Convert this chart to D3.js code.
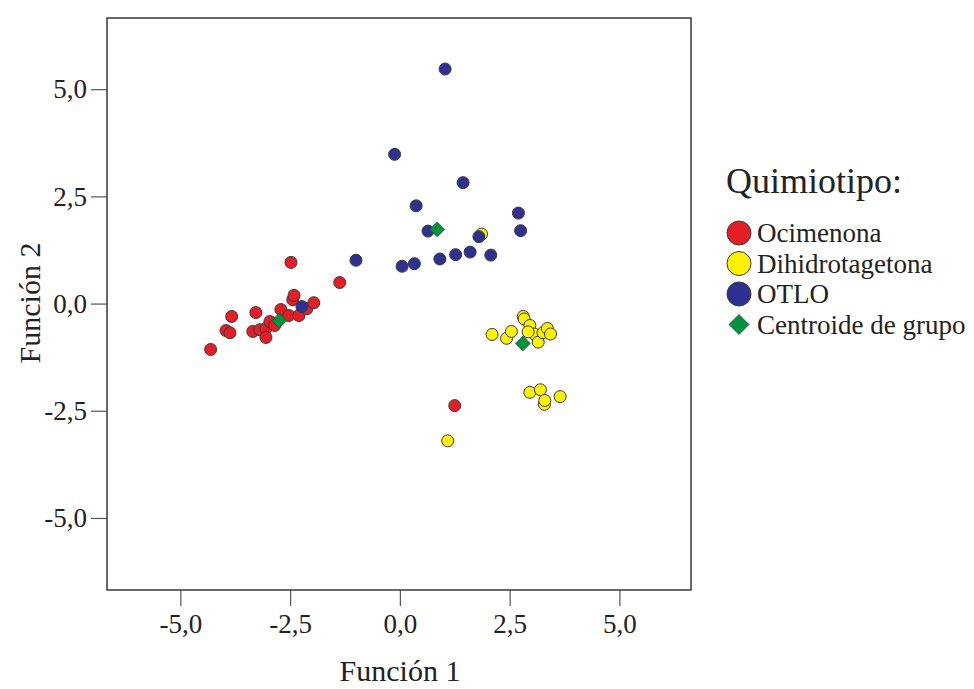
<!DOCTYPE html>
<html>
<head>
<meta charset="utf-8">
<script src="https://cdn.jsdelivr.net/npm/d3@7"></script>
<style>
	body { margin: 0; background: #fff; }
	svg { display: block; font-family: "Liberation Serif", "DejaVu Serif", serif; }
</style>
</head>
<body>
<svg id="chart" width="974" height="689"></svg>
<script>
;(() => {
	'use strict';

	// point data: [Función 1, Función 2]
	const ocimenona = [
		[-4.31, -1.07], [-3.83, -0.30], [-3.96, -0.63], [-3.87, -0.68],
		[-3.28, -0.21], [-3.35, -0.65], [-3.19, -0.61], [-3.05, -0.58],
		[-3.05, -0.79], [-2.96, -0.42], [-2.85, -0.51], [-2.71, -0.14],
		[-2.53, -0.28], [-2.44, 0.09], [-2.41, 0.19], [-2.30, -0.28],
		[-2.12, -0.12], [-1.96, 0.02], [-2.48, 0.96], [-1.37, 0.49],
		[1.25, -2.38]
	];
	const dihidrotagetona = [
		[1.86, 1.62],
		[2.10, -0.72], [2.43, -0.81], [2.54, -0.65], [2.81, -0.30],
		[2.83, -0.36], [2.96, -0.51], [3.06, -0.71], [2.92, -0.66],
		[3.15, -0.90], [3.26, -0.68], [3.36, -0.58], [3.43, -0.71],
		[2.96, -2.07], [3.20, -2.01], [3.29, -2.35], [3.30, -2.26],
		[3.65, -2.17], [1.09, -3.20]
	];
	const otlo = [
		[1.03, 5.47], [-0.12, 3.48], [1.44, 2.82], [0.37, 2.28],
		[2.70, 2.11], [2.75, 1.70], [0.64, 1.69], [1.80, 1.56],
		[-1.00, 1.01], [0.05, 0.87], [0.33, 0.93], [0.91, 1.04],
		[1.27, 1.14], [1.60, 1.20], [2.07, 1.13], [-2.23, -0.07]
	];
	const centroids = [[-2.75, -0.40], [0.85, 1.73], [2.80, -0.93]];

	const groupNames = ['Ocimenona', 'Dihidrotagetona', 'OTLO', 'Centroide de grupo'];
	const groupColors = ['#e31e24', '#fff200', '#2e3192', '#00923f'];
	const tickValues = [-5, -2.5, 0, 2.5, 5];

	const svg = d3.select('#chart');
	const plot = { left: 107, right: 691, top: 18, bottom: 590 };

	const x = d3.scaleLinear().domain([-6.67, 6.63]).range([plot.left, plot.right]),
		y = d3.scaleLinear().domain([-6.68, 6.66]).range([plot.bottom, plot.top]);

	// spanish style numbers: comma decimal, plain hyphen for minus
	const fmt = d3.formatLocale({ decimal: ',', thousands: '.', grouping: [3], currency: ['', ''], minus: '-' }).format('.1f');

	// axes
	const xAxis = svg.append('g')
		.attr('transform', `translate(0,${plot.bottom})`)
		.call(d3.axisBottom(x).tickValues(tickValues).tickFormat(fmt).tickSize(16).tickSizeOuter(0).tickPadding(8));
	const yAxis = svg.append('g')
		.attr('transform', `translate(${plot.left},0)`)
		.call(d3.axisLeft(y).tickValues(tickValues).tickFormat(fmt).tickSize(16).tickSizeOuter(0).tickPadding(4));

	[xAxis, yAxis].forEach((a) => {
		a.select('.domain').remove();
		a.selectAll('line').attr('stroke', '#555').attr('stroke-width', 1.2);
		a.selectAll('text')
			.attr('fill', '#222')
			.style('font-family', '"Liberation Serif", serif')
			.style('font-size', '27px');
	});

	// frame
	svg.append('rect')
		.attr('x', plot.left)
		.attr('y', plot.top)
		.attr('width', plot.right - plot.left)
		.attr('height', plot.bottom - plot.top)
		.attr('fill', 'none')
		.attr('stroke', '#444')
		.attr('stroke-width', 1.6);

	// points
	const series = [ocimenona, dihidrotagetona, otlo];
	series.forEach((data, i) => {
		svg.append('g').selectAll('circle')
			.data(data)
			.enter()
			.append('circle')
			.attr('cx', (d) => x(d[0]))
			.attr('cy', (d) => y(d[1]))
			.attr('r', 6)
			.attr('fill', groupColors[i])
			.attr('stroke', '#3a3a3a')
			.attr('stroke-width', 1);
	});

	const diamond = d3.symbol().type(d3.symbolSquare).size(110);
	svg.append('g').selectAll('path')
		.data(centroids)
		.enter()
		.append('path')
		.attr('d', diamond)
		.attr('transform', (d) => `translate(${x(d[0])},${y(d[1])}) rotate(45)`)
		.attr('fill', groupColors[3])
		.attr('stroke', '#2a5a3a')
		.attr('stroke-width', 0.8);

	// axis titles
	svg.append('text')
		.attr('x', 400)
		.attr('y', 681)
		.attr('text-anchor', 'middle')
		.attr('fill', '#222')
		.style('font-size', '30px')
		.text('Función 1');

	svg.append('text')
		.attr('transform', 'translate(40,303) rotate(-90)')
		.attr('text-anchor', 'middle')
		.attr('fill', '#222')
		.style('font-size', '30px')
		.text('Función 2');

	// legend
	const legend = svg.append('g').attr('transform', 'translate(726,0)');
	legend.append('text')
		.attr('x', 0)
		.attr('y', 193)
		.attr('fill', '#222')
		.style('font-size', '36px')
		.text('Quimiotipo:');

	const items = legend.selectAll('.item')
		.data(groupNames)
		.enter()
		.append('g')
		.attr('class', 'item')
		.attr('transform', (d, i) => `translate(0,${233 + i * 30.5})`);

	items.each(function(d, i) {
		const g = d3.select(this);
		if (i < 3) {
			g.append('circle')
				.attr('cx', 13)
				.attr('cy', 0)
				.attr('r', 12)
				.attr('fill', groupColors[i])
				.attr('stroke', '#3a3a3a')
				.attr('stroke-width', 1);
		} else {
			g.append('path')
				.attr('d', d3.symbol().type(d3.symbolSquare).size(200))
				.attr('transform', 'translate(13,0) rotate(45)')
				.attr('fill', groupColors[3])
				.attr('stroke', '#2a5a3a')
				.attr('stroke-width', 0.8);
		}
		g.append('text')
			.attr('x', 31)
			.attr('y', 9)
			.attr('fill', '#222')
			.style('font-size', '27px')
			.text(d);
	});
})();
</script>
</body>
</html>
